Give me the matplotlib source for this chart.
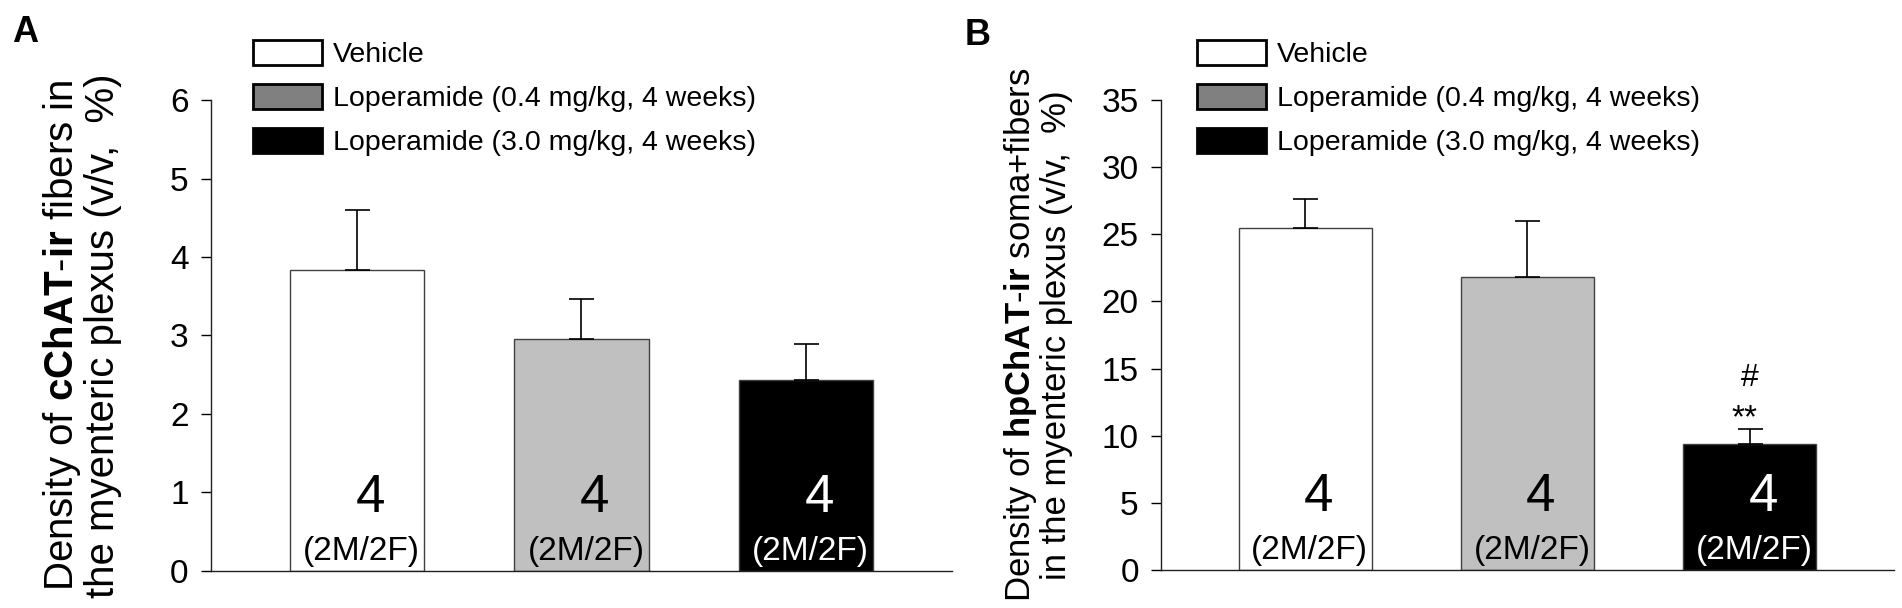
import matplotlib
matplotlib.use("Agg")
import matplotlib.pyplot as plt
from matplotlib.patches import Patch
import numpy as np

plt.rcParams.update(
    {
        "font.family": ["Liberation Sans", "DejaVu Sans"],
        "mathtext.fontset": "custom",
        "mathtext.rm": "Liberation Sans",
        "mathtext.bf": "Liberation Sans:bold",
        "axes.linewidth": 1.0,
    }
)

GROUPS = ["Vehicle", "Loperamide (0.4 mg/kg, 4 weeks)", "Loperamide (3.0 mg/kg, 4 weeks)"]
N_LABELS = ["4", "4", "4"]
SEX_LABELS = ["(2M/2F)", "(2M/2F)", "(2M/2F)"]

# panel A: cChAT-ir fibres
A_MEAN = [3.84, 2.95, 2.43]
A_SEM = [0.76, 0.51, 0.46]

# panel B: hpChAT-ir soma+fibres
B_MEAN = [25.5, 21.8, 9.35]
B_SEM = [2.1, 4.2, 1.15]

BAR_COLORS = ["#ffffff", "#c0c0c0", "#000000"]
LEGEND_COLORS = ["#ffffff", "#808080", "#000000"]
TEXT_COLORS = ["black", "black", "white"]


def draw_panel(ax, means, sems, ymax, ystep, ylabel, label_size):
    x = np.arange(len(means))
    ax.bar(x, means, width=0.6, color=BAR_COLORS, edgecolor="#404040", linewidth=1.0, zorder=2)
    ax.errorbar(x, means, yerr=[np.zeros(len(sems)), sems], fmt="none", ecolor="black",
                elinewidth=1.2, capsize=9, capthick=1.2, zorder=3)
    tr = ax.get_xaxis_transform()
    for i in range(len(means)):
        ax.text(x[i] + 0.06, 0.155, N_LABELS[i], transform=tr, ha="center", va="center",
                fontsize=38, color=TEXT_COLORS[i], zorder=4)
        ax.text(x[i] + 0.02, 0.042, SEX_LABELS[i], transform=tr, ha="center", va="center",
                fontsize=24, color=TEXT_COLORS[i], zorder=4)
    ax.set_xlim(-0.65, 2.65)
    ax.set_ylim(0, ymax)
    ax.set_yticks(np.arange(0, ymax + ystep / 2, ystep))
    ax.set_xticks([])
    for side in ["top", "right"]:
        ax.spines[side].set_visible(False)
    ax.spines["left"].set_color("#202020")
    ax.spines["bottom"].set_color("#202020")
    ax.tick_params(axis="y", direction="out", length=7, width=1.0, pad=9, labelsize=24)
    ax.set_ylabel(ylabel, fontsize=label_size, linespacing=1.05)
    ax.yaxis.set_label_coords(-0.12, 0.5)


fig = plt.figure(figsize=(19.02, 6.08), dpi=100)
ax_a = fig.add_axes([0.1109, 0.0609, 0.3896, 0.7746])
ax_b = fig.add_axes([0.6104, 0.0625, 0.3854, 0.7730])

draw_panel(ax_a, A_MEAN, A_SEM, 6, 1,
           "Density of $\\mathbf{cChAT}$-$\\mathbf{ir}$ fibers in\nthe myenteric plexus (v/v,  %)", 29)
draw_panel(ax_b, B_MEAN, B_SEM, 35, 5,
           "Density of $\\mathbf{hpChAT}$-$\\mathbf{ir}$ soma+fibers\nin the myenteric plexus (v/v,  %)", 25)

# significance marks on the high-dose bar in panel B
top = B_MEAN[2] + B_SEM[2]
ax_b.annotate("**", xy=(2, top), xytext=(-4, 1), textcoords="offset points",
              ha="center", va="baseline", fontsize=24)
ax_b.annotate("#", xy=(2, top), xytext=(0, 31), textcoords="offset points",
              ha="center", va="baseline", fontsize=23)

handles = [Patch(facecolor=c, edgecolor="black", linewidth=2.0) for c in LEGEND_COLORS]
for ax, x0 in [(ax_a, 253 / 1902), (ax_b, 1197 / 1902)]:
    ax.legend(handles, GROUPS, loc="upper left", bbox_to_anchor=(x0, 1 - 40 / 608),
              bbox_transform=fig.transFigure, frameon=False, fontsize=20.5, borderpad=0,
              borderaxespad=0, handlelength=2.42, handleheight=0.98, handletextpad=0.4,
              labelspacing=0.55)

fig.text(12 / 1902, 1 - 15 / 608, "A", fontsize=26, fontweight="bold", ha="left", va="top")
fig.text(965 / 1902, 1 - 18 / 608, "B", fontsize=26, fontweight="bold", ha="left", va="top")

fig.savefig("out.png", dpi=100)
